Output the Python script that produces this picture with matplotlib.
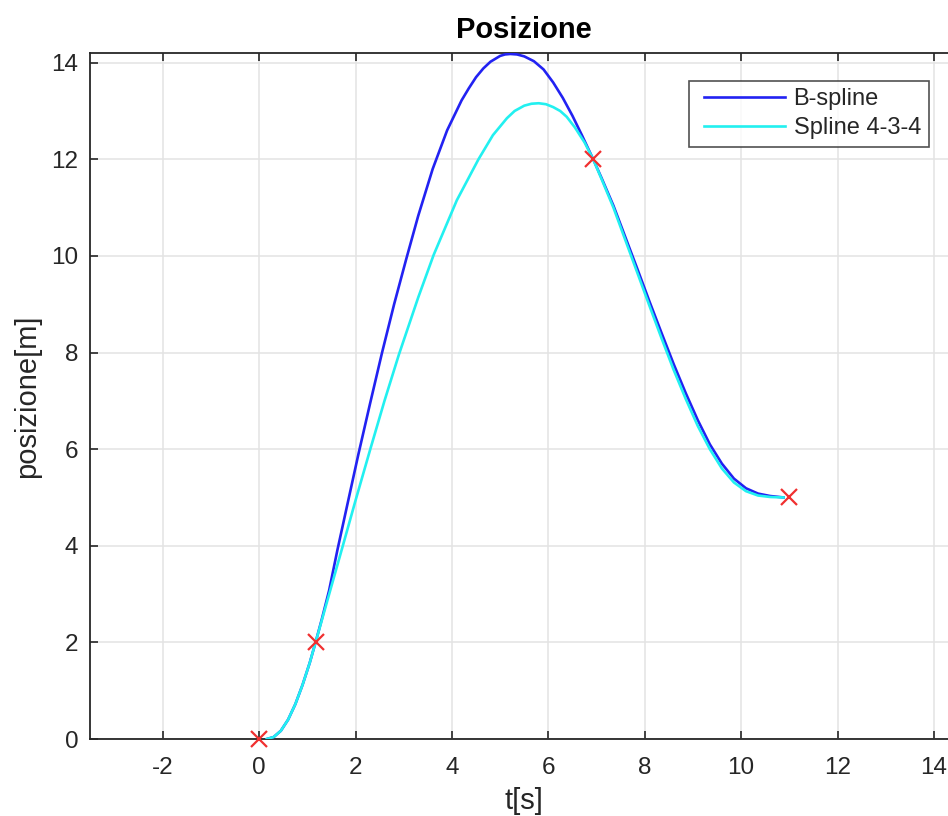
import matplotlib
matplotlib.use("Agg")
import matplotlib.pyplot as plt
from matplotlib.legend_handler import HandlerLine2D

# B-spline curve
bspline_t = [0.16, 0.30, 0.45, 0.60, 0.75, 0.90, 1.05, 1.17, 1.30, 1.45, 1.625, 1.84, 2.06, 2.30,
             2.55, 2.80, 3.05, 3.30, 3.60, 3.90, 4.20, 4.35, 4.50, 4.65, 4.80, 5.00, 5.10, 5.21,
             5.35, 5.50, 5.70, 5.90, 6.10, 6.30, 6.50, 6.70, 6.93, 7.10, 7.35, 7.60, 7.85, 8.10,
             8.35, 8.60, 8.85, 9.10, 9.35, 9.60, 9.85, 10.10, 10.35, 10.60, 10.88]
bspline_y = [0.00, 0.04, 0.17, 0.40, 0.72, 1.12, 1.58, 2.00, 2.48, 3.07, 3.92, 4.90, 5.90, 6.94,
             8.00, 9.00, 9.93, 10.83, 11.80, 12.60, 13.22, 13.47, 13.70, 13.88, 14.02, 14.14, 14.17, 14.18,
             14.17, 14.13, 14.03, 13.86, 13.59, 13.27, 12.90, 12.49, 12.00, 11.62, 11.04, 10.38, 9.72, 9.05,
             8.40, 7.76, 7.16, 6.60, 6.10, 5.70, 5.39, 5.19, 5.08, 5.03, 5.00]

# Spline 4-3-4 curve
spline434_t = [0.16, 0.30, 0.45, 0.60, 0.75, 0.90, 1.05, 1.17, 1.45, 1.75, 2.00, 2.30, 2.60, 2.90,
               3.30, 3.62, 4.10, 4.55, 4.85, 5.14, 5.30, 5.50, 5.65, 5.80, 5.95, 6.10, 6.245, 6.38,
               6.55, 6.75, 6.93, 7.10, 7.35, 7.60, 7.85, 8.10, 8.35, 8.60, 8.85, 9.10, 9.35, 9.60,
               9.85, 10.10, 10.35, 10.60, 10.88]
spline434_y = [0.00, 0.04, 0.17, 0.40, 0.72, 1.12, 1.58, 2.00, 2.99, 4.05, 4.94, 5.98, 7.00, 7.96,
               9.14, 10.02, 11.15, 12.00, 12.50, 12.85, 13.00, 13.11, 13.15, 13.16, 13.14, 13.08, 13.00, 12.88,
               12.66, 12.35, 12.00, 11.60, 11.00, 10.32, 9.64, 8.96, 8.29, 7.64, 7.04, 6.48, 6.00, 5.60,
               5.31, 5.13, 5.04, 5.01, 5.00]

# Via points
via_t = [0.0, 1.17, 6.93, 11.0]
via_y = [0.0, 2.0, 12.0, 5.0]

x_ticks = [-2, 0, 2, 4, 6, 8, 10, 12, 14]
y_ticks = [0, 2, 4, 6, 8, 10, 12, 14]

plt.rcParams['font.family'] = ['Liberation Sans', 'DejaVu Sans']

W, H = 948, 816
fig = plt.figure(figsize=(W / 100, H / 100), dpi=100)
ax_left, ax_bottom = 89.5, 77.0
ax_w = 18.04 * 48.2
ax_h = 739 - 53
ax = fig.add_axes([ax_left / W, ax_bottom / H, ax_w / W, ax_h / H])

axis_col = '#262626'

ax.plot(bspline_t, bspline_y, color='#2222f2', lw=1.9, label='B-spline', zorder=3,
        solid_joinstyle='round')
ax.plot(spline434_t, spline434_y, color='#22f0f0', lw=1.9, label='Spline 4-3-4', zorder=4,
        solid_joinstyle='round')
ax.plot(via_t, via_y, linestyle='none', marker='x', color='#f03030', markersize=11,
        markeredgewidth=1.6, zorder=5, clip_on=False)

ax.set_xlim(-3.52, 14.52)
ax.set_ylim(0, 14.2)
ax.set_xticks(x_ticks)
ax.set_yticks(y_ticks)
ax.set_xticklabels([str(v) for v in x_ticks])
ax.set_yticklabels([str(v) for v in y_ticks])

ax.grid(True, color='#e3e3e3', lw=1.1)
ax.set_axisbelow(True)
for s in ax.spines.values():
    s.set_color(axis_col)
    s.set_linewidth(1.3)
ax.tick_params(direction='in', length=6, width=1.2, color=axis_col, labelcolor=axis_col,
               labelsize=17.5, top=True, right=True)
ax.tick_params(axis='x', pad=13)
ax.tick_params(axis='y', pad=8)

ax.set_title('Posizione', fontsize=21, fontweight='bold', color='black', pad=11)
ax.set_xlabel('t[s]', fontsize=21, color=axis_col, labelpad=6)
ax.set_ylabel('posizione[m]', fontsize=21, color=axis_col, labelpad=7)

leg = ax.legend(loc='upper left', bbox_to_anchor=(689 / W, 1 - 80.7 / H),
                bbox_transform=fig.transFigure, fontsize=17, frameon=True, fancybox=False,
                handlelength=4.05, handletextpad=0.05, borderpad=0.33, labelspacing=0.28,
                borderaxespad=0, numpoints=2,
                handler_map={plt.Line2D: HandlerLine2D(marker_pad=0.3)})
leg.get_frame().set_edgecolor(axis_col)
leg.get_frame().set_linewidth(1.2)
for t in leg.get_texts():
    t.set_color(axis_col)

fig.savefig('out.png', dpi=100)
